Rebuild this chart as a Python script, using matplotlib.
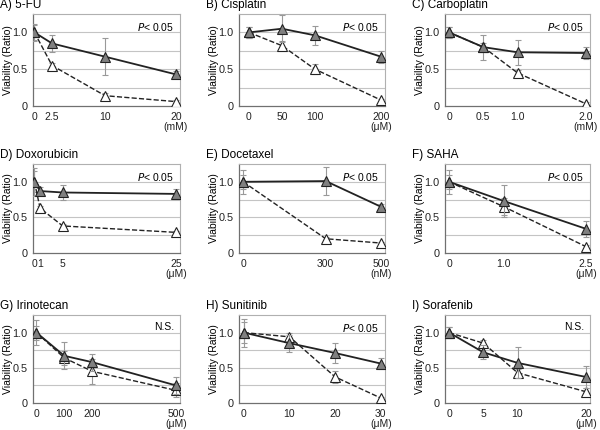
import numpy as np
import matplotlib
matplotlib.use("Agg")
import matplotlib.pyplot as plt

plt.rcParams['font.family'] = ['Liberation Sans', 'DejaVu Sans']

# panel data: title, doses, tick labels, unit, filled / open means and errors
titles = ["A) 5-FU", "B) Cisplatin", "C) Carboplatin",
          "D) Doxorubicin", "E) Docetaxel", "F) SAHA",
          "G) Irinotecan", "H) Sunitinib", "I) Sorafenib"]
doses = [[0, 2.5, 10, 20], [0, 50, 100, 200], [0, 0.5, 1.0, 2.0],
         [0, 1, 5, 25], [0, 300, 500], [0, 1.0, 2.5],
         [0, 100, 200, 500], [0, 10, 20, 30], [0, 5, 10, 20]]
tick_labels = [["0", "2.5", "10", "20"], ["0", "50", "100", "200"],
               ["0", "0.5", "1.0", "2.0"], ["0", "1", "5", "25"],
               ["0", "300", "500"], ["0", "1.0", "2.5"],
               ["0", "100", "200", "500"], ["0", "10", "20", "30"],
               ["0", "5", "10", "20"]]
units = ["(mM)", "(μM)", "(mM)", "(μM)", "(nM)", "(μM)", "(μM)", "(μM)", "(μM)"]
stats = ["P < 0.05"] * 6 + ["N.S.", "P < 0.05", "N.S."]

filled = [[1.0, 0.85, 0.67, 0.43], [1.0, 1.05, 0.96, 0.67],
          [1.0, 0.80, 0.73, 0.72], [1.0, 0.87, 0.85, 0.83],
          [1.0, 1.01, 0.65], [1.0, 0.73, 0.34],
          [1.0, 0.67, 0.58, 0.25], [1.0, 0.85, 0.71, 0.56],
          [1.0, 0.72, 0.57, 0.37]]
filled_err = [[0.12, 0.12, 0.25, 0.04], [0.08, 0.18, 0.13, 0.08],
              [0.08, 0.17, 0.17, 0.08], [0.20, 0.05, 0.10, 0.07],
              [0.17, 0.20, 0.04], [0.17, 0.22, 0.11],
              [0.18, 0.19, 0.12, 0.12], [0.20, 0.12, 0.14, 0.08],
              [0.08, 0.10, 0.22, 0.15]]
opened = [[1.0, 0.55, 0.14, 0.06], [1.0, 0.82, 0.50, 0.08],
          [1.0, 0.80, 0.45, 0.03], [1.0, 0.63, 0.38, 0.29],
          [1.0, 0.20, 0.14], [1.0, 0.65, 0.09],
          [1.0, 0.64, 0.45, 0.18], [1.0, 0.94, 0.37, 0.07],
          [1.0, 0.85, 0.43, 0.16]]
opened_err = [[0.10, 0.03, 0.03, 0.02], [0.08, 0.06, 0.07, 0.02],
              [0.08, 0.05, 0.04, 0.02], [0.15, 0.03, 0.03, 0.02],
              [0.10, 0.03, 0.02], [0.10, 0.12, 0.02],
              [0.10, 0.10, 0.18, 0.10], [0.15, 0.05, 0.08, 0.02],
              [0.08, 0.04, 0.06, 0.05]]

W, H = 600, 430
col_left = [33, 239, 445]
col_width = [147, 146, 145]
row_top = [14, 164, 315]
row_height = [92, 89, 88]
left_pad = [0.01, 0.075, 0.03, 0.01, 0.03, 0.03, 0.025, 0.035, 0.03]

fig = plt.figure(figsize=(6, 4.3), dpi=100)

for i in range(9):
    r, c = divmod(i, 3)
    ax = fig.add_axes([col_left[c] / W, 1 - (row_top[r] + row_height[r]) / H,
                       col_width[c] / W, row_height[r] / H])
    x = doses[i]
    xmax = x[-1]
    ax.set_xlim(-left_pad[i] * xmax, xmax * 1.03)
    ax.set_ylim(0, 1.25)

    for y in [0.25, 0.5, 0.75, 1.0]:
        ax.axhline(y, color='#c4c4c4', lw=0.8, zorder=0)

    ax.errorbar(x, opened[i], yerr=opened_err[i], fmt='none', ecolor='#999999',
                elinewidth=0.8, capsize=2, capthick=0.8, zorder=2)
    ax.plot(x, opened[i], '--', color='#222222', lw=1.0, marker='^', ms=7.5,
            mfc='white', mec='#222222', mew=0.8, zorder=3)
    ax.errorbar(x, filled[i], yerr=filled_err[i], fmt='none', ecolor='#999999',
                elinewidth=0.8, capsize=2, capthick=0.8, zorder=4)
    ax.plot(x, filled[i], '-', color='#222222', lw=1.3, marker='^', ms=7.5,
            mfc='#808080', mec='#222222', mew=0.8, zorder=5)

    labels = list(tick_labels[i])
    labels[-1] = labels[-1] + "\n" + units[i]
    ax.set_xticks(x)
    ax.set_xticklabels(labels, fontsize=7.5, linespacing=1.1)
    ax.set_yticks([0, 0.5, 1.0])
    ax.set_yticklabels(["0", "0.5", "1.0"], fontsize=7.8)
    ax.tick_params(axis='x', length=0, pad=4, colors='#222222')
    ax.tick_params(axis='y', length=0, pad=4, colors='#222222')
    ax.set_ylabel("Viability (Ratio)", fontsize=7.5)
    ax.yaxis.set_label_coords(-20 / col_width[c], 0.5)

    for s in ['top', 'right']:
        ax.spines[s].set_color('#b0b0b0')
        ax.spines[s].set_linewidth(0.8)
    for s in ['left', 'bottom']:
        ax.spines[s].set_color('#707070')
        ax.spines[s].set_linewidth(0.9)

    if stats[i].startswith("P"):
        txt = r"$\it{P}$< 0.05"
    else:
        txt = stats[i]
    ax.text(0.96, 0.92, txt, transform=ax.transAxes, ha='right', va='top',
            fontsize=7.5)
    ax.text(-33 / col_width[c], 1.0 + 3 / row_height[r], titles[i],
            transform=ax.transAxes, ha='left', va='bottom', fontsize=8.5)

fig.savefig("out.png", dpi=100)
